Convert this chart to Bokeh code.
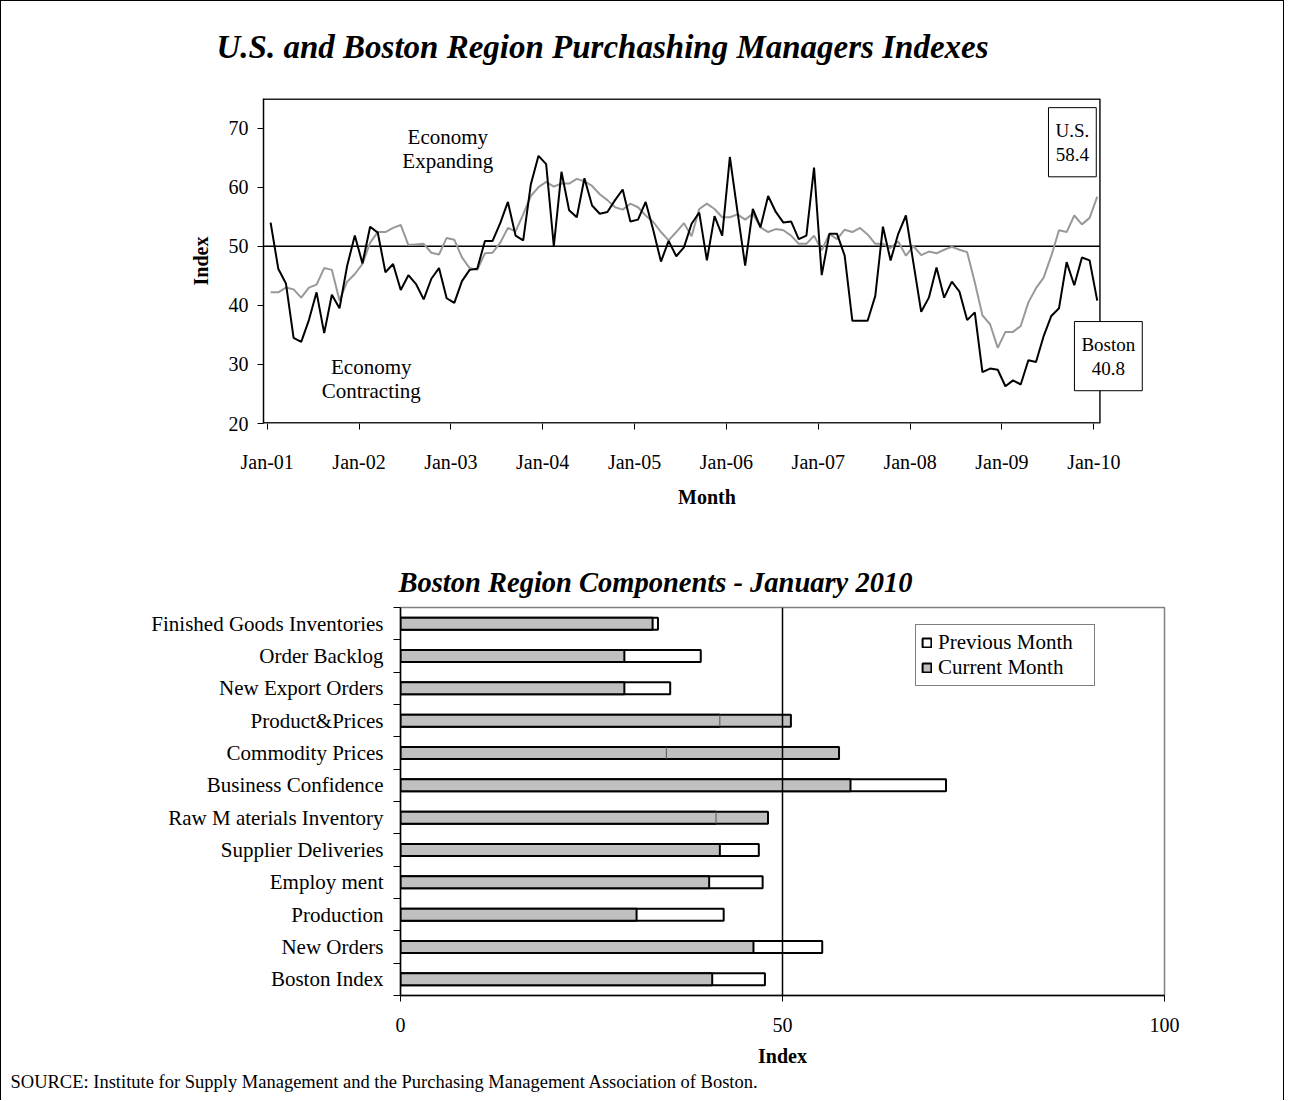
import numpy as np
from bokeh.plotting import figure
from bokeh.models import Range1d, FixedTicker, Span, Label, Legend, LegendItem, ColumnDataSource, Title
from bokeh.layouts import column
from bokeh.embed import file_html
from bokeh.resources import INLINE

# ---------------- data ----------------
year_labels = ["Jan-01", "Jan-02", "Jan-03", "Jan-04", "Jan-05",
               "Jan-06", "Jan-07", "Jan-08", "Jan-09", "Jan-10"]

boston_pmi = [54.0, 46.2, 43.7, 34.5, 33.8, 37.5, 42.2, 35.3, 41.8, 39.5, 46.7, 51.8,
              47.1, 53.3, 52.3, 45.6, 47.0, 42.6, 45.1, 43.6, 41.0, 44.5, 46.3, 41.2,
              40.4, 44.1, 46.0, 46.2, 50.9, 50.9, 53.9, 57.5, 51.8, 51.0, 60.5, 65.3,
              63.9, 50.0, 62.6, 56.1, 54.9, 61.5, 56.9, 55.5, 55.8, 57.8, 59.6, 54.2,
              54.5, 57.5, 52.7, 47.4, 50.9, 48.3, 49.8, 53.8, 55.7, 47.6, 55.1, 51.8,
              65.1, 55.8, 46.7, 56.3, 53.2, 58.5, 55.8, 54.0, 54.2, 51.2, 51.8, 63.3,
              45.1, 52.1, 52.1, 48.4, 37.4, 37.4, 37.4, 41.6, 53.3, 47.6, 52.1, 55.2,
              47.0, 38.9, 41.3, 46.4, 41.3, 44.0, 42.3, 37.5, 38.8, 28.7, 29.3, 29.1,
              26.3, 27.3, 26.6, 30.7, 30.4, 34.8, 38.2, 39.5, 47.3, 43.4, 48.1, 47.6,
              40.8]

us_pmi = [42.2, 42.2, 43.0, 42.7, 41.3, 43.0, 43.5, 46.3, 46.0, 40.8, 44.0, 45.3,
          47.0, 50.6, 52.4, 52.4, 53.1, 53.6, 50.2, 50.3, 50.4, 48.9, 48.6, 51.4,
          51.1, 48.1, 46.3, 46.0, 48.8, 48.9, 50.6, 53.1, 52.5, 55.4, 58.5, 60.0,
          60.9, 60.1, 60.6, 60.6, 61.4, 61.0, 60.2, 58.8, 57.8, 56.6, 56.2, 57.2,
          56.6, 55.2, 54.1, 52.4, 51.0, 52.4, 53.9, 51.7, 56.3, 57.2, 56.3, 54.9,
          54.9, 55.4, 54.5, 55.5, 53.2, 52.4, 52.9, 52.7, 51.8, 50.4, 50.4, 51.8,
          49.3, 52.1, 51.2, 52.8, 52.4, 53.1, 52.0, 50.4, 50.4, 49.7, 50.8, 48.4,
          50.0, 48.5, 49.1, 48.8, 49.4, 49.9, 49.4, 49.0, 43.9, 38.3, 36.8, 32.8,
          35.5, 35.5, 36.5, 40.5, 42.9, 44.7, 48.4, 52.7, 52.4, 55.2, 53.7, 54.8,
          58.4]

# bottom chart, listed bottom -> top
components = ["Boston Index", "New Orders", "Production", "Employ ment",
              "Supplier Deliveries", "Raw M aterials Inventory", "Business Confidence",
              "Commodity Prices", "Product&Prices", "New Export Orders",
              "Order Backlog", "Finished Goods Inventories"]
current_month = [40.8, 46.2, 30.9, 40.4, 41.8, 48.1, 58.9, 57.4, 51.1, 29.3, 29.3, 33.0]
previous_month = [47.7, 55.2, 42.3, 47.4, 46.9, 41.3, 71.4, 34.8, 41.8, 35.3, 39.3, 33.7]

FONT = "Liberation Serif"
W = 1282

# ---------------- title strip ----------------
H0 = 70
p0 = figure(width=W, height=H0, output_backend="svg", toolbar_location=None,
            x_range=Range1d(0, W), y_range=Range1d(0, H0), min_border=0,
            x_axis_location=None, y_axis_location=None, frame_align=False)
p0.grid.visible = False
p0.outline_line_color = None
p0.background_fill_color = "white"
p0.border_fill_color = "white"
p0.add_layout(Label(x=215, y=H0 - 45, text="U.S. and Boston Region Purchashing Managers Indexes",
                    text_font=FONT, text_font_size="33px", text_font_style="bold italic",
                    text_color="black", text_align="left", text_baseline="middle"))

# ---------------- top chart ----------------
n = len(boston_pmi)
xm = np.arange(n) + 0.45
X_LO, X_VIS = -0.48, 108.8          # visible plot-area edges (months)
PX_PER_MONTH = 7.654
FRAME_W1 = 887
X_HI = X_LO + FRAME_W1 / PX_PER_MONTH   # frame extended to hold the Boston call-out
Y_LO, Y_HI = 20, 75

p1 = figure(width=W, height=530 - H0, output_backend="svg", toolbar_location=None,
            x_range=Range1d(X_LO, X_HI), y_range=Range1d(Y_LO, Y_HI),
            min_border_left=262, min_border_right=W - 262 - FRAME_W1,
            min_border_top=97 - H0, min_border_bottom=108, frame_align=False)
p1.grid.visible = False
p1.outline_line_color = None
p1.background_fill_color = "white"
p1.border_fill_color = "white"

# plot-area border (top, right, bottom) and the 50 line
p1.segment(x0=[X_LO, X_VIS, X_LO], x1=[X_VIS, X_VIS, X_VIS], y0=[Y_HI, Y_LO, Y_LO],
           y1=[Y_HI, Y_HI, Y_LO], line_color="#222222", line_width=[3, 1.6, 3])
p1.segment(x0=[X_LO], x1=[X_VIS], y0=[50], y1=[50], line_color="black", line_width=1.5)

p1.line(xm, us_pmi, line_color="#999999", line_width=2)
p1.line(xm, boston_pmi, line_color="black", line_width=2)

p1.yaxis.ticker = FixedTicker(ticks=[20, 30, 40, 50, 60, 70])
p1.xaxis.ticker = FixedTicker(ticks=[12 * k for k in range(len(year_labels))])
p1.xaxis.major_label_overrides = {12 * k: lab for k, lab in enumerate(year_labels)}
for ax in (p1.xaxis, p1.yaxis):
    ax.major_label_text_font = FONT
    ax.major_label_text_font_size = "20px"
    ax.major_label_text_color = "black"
    ax.axis_label_text_font = FONT
    ax.axis_label_text_font_size = "20px"
    ax.axis_label_text_font_style = "bold"
    ax.axis_label_text_color = "black"
    ax.major_tick_in = 0
    ax.major_tick_out = 6
    ax.minor_tick_out = 0
    ax.minor_tick_in = 0
    ax.major_tick_line_color = "black"
    ax.axis_line_color = "black"
    ax.axis_line_width = 1.5
p1.xaxis.axis_line_color = None
p1.yaxis.axis_label = "Index"
p1.xaxis.axis_label = "Month"
p1.yaxis.major_label_standoff = 9
p1.yaxis.axis_label_standoff = 14
p1.xaxis.major_label_standoff = 21
p1.xaxis.axis_label_standoff = 10

p1.add_layout(Label(x=23.6, y=66.4, text="Economy\nExpanding", text_font=FONT, text_color="black",
                    text_font_size="21px", text_align="center", text_baseline="middle",
                    text_line_height=1.0))
p1.add_layout(Label(x=13.6, y=27.6, text="Economy\nContracting", text_font=FONT, text_color="black",
                    text_font_size="21px", text_align="center", text_baseline="middle",
                    text_line_height=1.0))
p1.add_layout(Label(x=105.2, y=67.6, text="U.S.\n" + f"{us_pmi[-1]:.1f}", text_font=FONT,
                    text_font_size="19px", text_align="center", text_baseline="middle",
                    text_line_height=1.15, text_color="black",
                    background_fill_color="white", border_line_color="black",
                    border_line_width=1, padding=(7, 12)))
p1.add_layout(Label(x=109.9, y=31.4, text="Boston\n" + f"{boston_pmi[-1]:.1f}", text_font=FONT,
                    text_font_size="19px", text_align="center", text_baseline="middle",
                    text_line_height=1.15, text_color="black",
                    background_fill_color="white", border_line_color="black",
                    border_line_width=1, padding=(7, 12)))

# ---------------- bottom chart ----------------
pos = np.arange(len(components)) + 0.5
bar_h = 0.37
src = ColumnDataSource(dict(y=pos, cur=current_month, prev=previous_month))
up = [i for i in range(len(components)) if current_month[i] > previous_month[i]]
div_src = ColumnDataSource(dict(x=[previous_month[i] for i in up],
                                y0=[pos[i] - bar_h / 2 for i in up],
                                y1=[pos[i] + bar_h / 2 for i in up]))

p2 = figure(width=W, height=569, output_backend="svg", toolbar_location=None,
            x_range=Range1d(0, 100), y_range=Range1d(0, 12),
            min_border_left=399, min_border_right=119, min_border_top=76, min_border_bottom=105,
            frame_align=False)
p2.grid.visible = False
p2.outline_line_color = "#808080"
p2.outline_line_width = 1.5
p2.background_fill_color = "white"
p2.border_fill_color = "white"

r_prev = p2.hbar(y="y", right="prev", left=0, height=bar_h, source=src,
                 fill_color="white", line_color="black", line_width=2)
r_cur = p2.hbar(y="y", right="cur", left=0, height=bar_h, source=src,
                fill_color="#C0C0C0", line_color="black", line_width=2)
p2.segment(x0="x", x1="x", y0="y0", y1="y1", source=div_src, line_color="#555555", line_width=1)
p2.add_layout(Span(location=50, dimension="height", line_color="black", line_width=1.5))

p2.xaxis.ticker = FixedTicker(ticks=[0, 50, 100])
p2.yaxis.ticker = FixedTicker(ticks=list(pos), minor_ticks=list(range(0, 13)))
p2.yaxis.major_label_overrides = {float(v): c for v, c in zip(pos, components)}
for ax in (p2.xaxis, p2.yaxis):
    ax.major_label_text_font = FONT
    ax.major_label_text_font_size = "20px"
    ax.major_label_text_color = "black"
    ax.axis_label_text_font = FONT
    ax.axis_label_text_font_size = "20px"
    ax.axis_label_text_font_style = "bold"
    ax.axis_label_text_color = "black"
    ax.axis_line_color = "black"
    ax.axis_line_width = 1.5
p2.yaxis.major_label_text_font_size = "21px"
p2.xaxis.major_tick_in = 0
p2.xaxis.major_tick_out = 6
p2.xaxis.major_tick_line_color = "black"
p2.xaxis.minor_tick_out = 0
p2.xaxis.minor_tick_in = 0
p2.yaxis.major_tick_in = 0
p2.yaxis.major_tick_out = 0
p2.yaxis.minor_tick_in = 0
p2.yaxis.minor_tick_out = 7
p2.yaxis.minor_tick_line_color = "black"
p2.yaxis.major_label_standoff = 10
p2.xaxis.axis_label = "Index"
p2.xaxis.major_label_standoff = 16
p2.xaxis.axis_label_standoff = 10

legend = Legend(items=[LegendItem(label="Previous Month", renderers=[r_prev]),
                       LegendItem(label="Current Month", renderers=[r_cur])],
                location=(515, 309), label_text_font=FONT, label_text_font_size="21px",
                label_text_color="black",
                border_line_color="black", border_line_width=1, background_fill_color="white",
                background_fill_alpha=1, padding=5, spacing=0, margin=0,
                glyph_width=11, glyph_height=11, label_height=18, label_width=151,
                label_standoff=6)
p2.add_layout(legend)

p2.add_layout(Title(text="Boston Region Components - January 2010", align="left", offset=-2,
                    vertical_align="bottom", standoff=20, text_font=FONT, text_font_size="28.5px",
                    text_font_style="bold italic", text_color="black"), "above")
p2.add_layout(Title(text="SOURCE: Institute for Supply Management and the Purchasing Management Association of Boston.",
                    align="left", offset=-390, vertical_align="top", standoff=4, text_font=FONT,
                    text_font_size="18.5px", text_font_style="normal", text_color="black"), "below")

layout = column(p0, p1, p2, spacing=0,
                styles={"border-left": "1px solid black", "border-top": "1px solid black",
                        "border-right": "1px solid black"})
open("out.html", "w").write(file_html(layout, INLINE))
